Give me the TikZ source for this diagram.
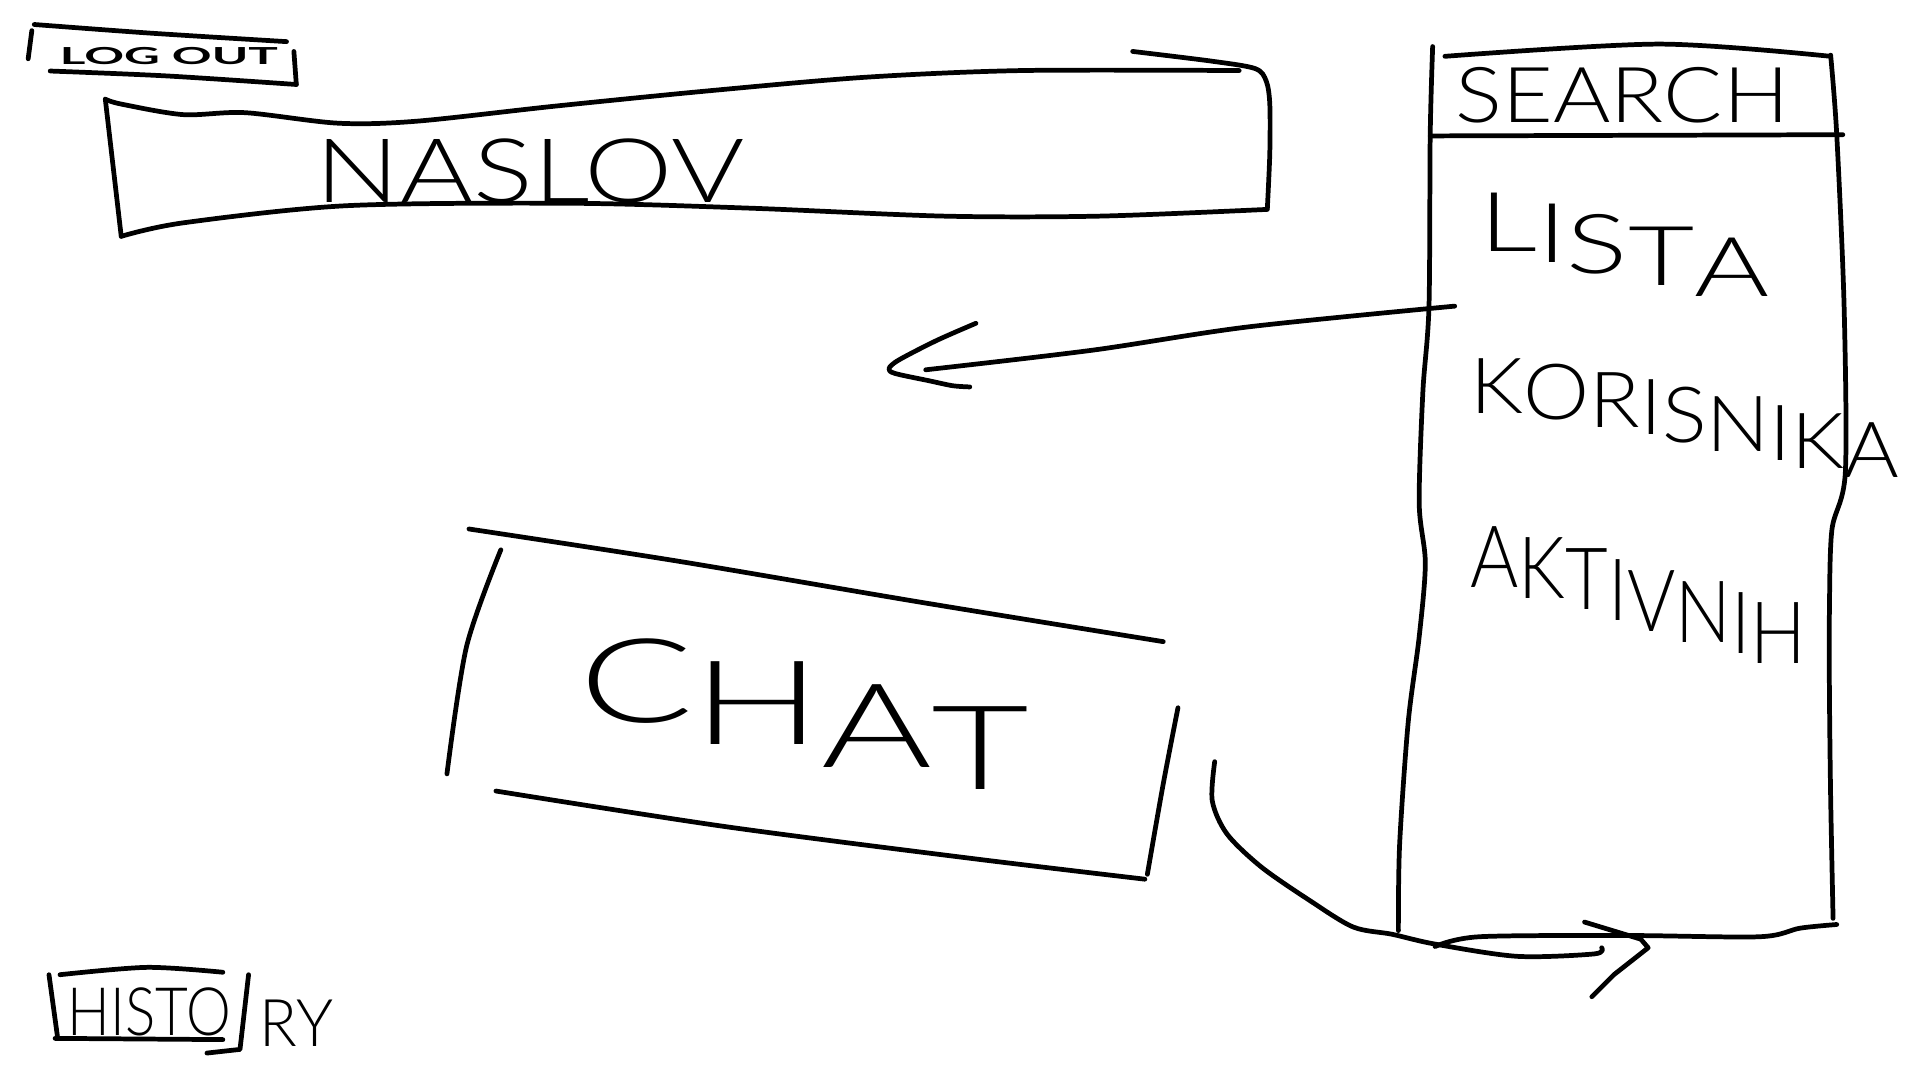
\documentclass[tikz,border=0pt]{standalone}
\usepackage{fontspec}
\usepackage{graphicx}
\IfFontExistsTF{Lato Light}{%
  \newfontfamily\hand{Lato Light}\newfontfamily\handr{Lato}}{%
  \newfontfamily\hand{Fira Sans}\newfontfamily\handr{Fira Sans}}
\newlength\hpx
\setlength\hpx{0.5mm}
\newcommand{\hw}[3]{\resizebox{#1\hpx}{#2\hpx}{\hand #3}}
\newcommand{\hwr}[3]{\resizebox{#1\hpx}{#2\hpx}{\handr #3}}
% stepped handwriting: width (px), font size (pt), letters with \dn{drop}{letter}
\newcommand{\stairs}[3]{\resizebox{#1\hpx}{\height}{\fontsize{#2pt}{#2pt}\hand #3}}
\newcommand{\dn}[2]{\raisebox{-#1\hpx}{#2}}
\begin{document}
\begin{tikzpicture}[x=0.5mm,y=-0.5mm,
  sk/.style={line width=5.5pt,line cap=round,line join=round},
  lbl/.style={inner sep=0pt,outer sep=0pt}]
\useasboundingbox (0,0) rectangle (1568,882);
\fill[white] (0,0) rectangle (1568,882);

% ---- LOG OUT
\node[lbl] (logout) at (138,46) {\hwr{178}{14}{\bfseries LOG OUT}};
\draw[sk] (26,25) -- (23,48);
\draw[sk] plot[smooth] coordinates {(28,20) (122,27) (234,34)};
\draw[sk] (240,42) -- (242,69);
\draw[sk] plot[smooth] coordinates {(41,58) (136,62) (242,69)};

% ---- NASLOV
\node[lbl] (naslov) at (433,140) {\hw{350}{52}{NASLOV}};
\draw[sk] plot[smooth] coordinates {(86,81) (99,85) (149.5,93.6) (200,92) (276,100.6) (340,99) (454,86.6) (580.5,74) (708,63) (835,57.6) (1012,57.6)};
\draw[sk] plot[smooth] coordinates {(925,42) (990,50) (1025,56) (1034,66) (1037,85) (1037,125) (1035,170)};
\draw[sk] (86,81) -- (99,193);
\draw[sk] plot[smooth] coordinates {(99,193) (149.5,182) (282.7,168) (467,166) (612.5,170) (771,176.5) (898,176.5) (1035,171)};

% ---- SEARCH panel
\draw[sk] plot[smooth] coordinates {(1170,38) (1168,110) (1167,250) (1162,320) (1159,411) (1164,460) (1159,520) (1150,590) (1143,690) (1142,760)};
\draw[sk] plot[smooth] coordinates {(1495,45) (1500,110) (1506,250) (1507,386) (1496,433) (1494,500) (1494,563) (1495,650) (1497,750)};
\draw[sk] plot[smooth] coordinates {(1180,46) (1355,36) (1495,46)};
\draw[sk] (1168,111) -- (1505,110);
\draw[sk] plot[smooth] coordinates {(1172,773) (1208,765) (1330,764) (1437,765) (1470,758) (1500,755)};
\node[lbl] (search) at (1325,78) {\hw{272}{45}{SEARCH}};
\node[lbl,anchor=north west] (lista) at (1208,158)
  {\stairs{237}{96}{L\dn{9}{I}\dn{18}{S}\dn{27}{T}\dn{36}{A}}};
\node[lbl,anchor=north west] (korisnika) at (1201,293)
  {\stairs{350}{90}{K\dn{5}{O}\dn{11}{R}\dn{17}{I}\dn{24}{S}\dn{31}{N}\dn{38}{I}\dn{45}{K}\dn{52}{A}}};
\node[lbl,anchor=north west] (aktivnih) at (1201,430)
  {\stairs{274}{100}{A\dn{9}{K}\dn{18}{T}\dn{27}{I}\dn{36}{V}\dn{45}{N}\dn{54}{I}\dn{62}{H}}};

% ---- CHAT
\node[lbl,anchor=north west] (chat) at (473,522)
  {\stairs{368}{136}{C\dn{18}{H}\dn{36}{A}\dn{54}{T}}};
\draw[sk] plot[smooth] coordinates {(383,432) (552,458) (753,492) (950,524)};
\draw[sk] plot[smooth] coordinates {(409,449) (381,528) (365,632)};
\draw[sk] plot[smooth] coordinates {(405,646) (592,675) (793,701) (935,718)};
\draw[sk] plot[smooth] coordinates {(962,578) (950,640) (937,714)};

% ---- HISTORY
\node[lbl] (histo) at (122,826) {\hw{133}{39}{HISTO}};
\node[lbl] (ry) at (242,836) {\hw{60}{38}{RY}};
\draw[sk] (40,796) -- (47,847);
\draw[sk] plot[smooth] coordinates {(49,796) (120,790) (182,794)};
\draw[sk] (45,848) -- (182,849);
\draw[sk] (203,796) -- (196,857) -- (169,860);

% ---- arrow from the list to the left
\coordinate (la) at (1188,250);
\coordinate (lb) at (756,302);
\coordinate (ltip) at (726,301);
\draw[sk] plot[smooth] coordinates {(la) (1019,267) (892,286) (lb)};
\draw[sk] plot[smooth] coordinates {(797,264) (765,278) (734,294) (ltip) (731,305) (759,311) (778,315) (792,316)};

% ---- arrow from chat to the panel
\coordinate (ca) at (992,622);
\coordinate (ctip) at (1346,774);
\draw[sk] plot[smooth] coordinates {(ca) (990,654) (1002,681) (1030,708) (1069,735) (1105,757) (1137,763) (1172,771) (1239,781) (1302,779) (1308,774)};
\draw[sk] (1294,753) -- (1340,767) -- (ctip) -- (1318,796) -- (1300,814);
\end{tikzpicture}
\end{document}
